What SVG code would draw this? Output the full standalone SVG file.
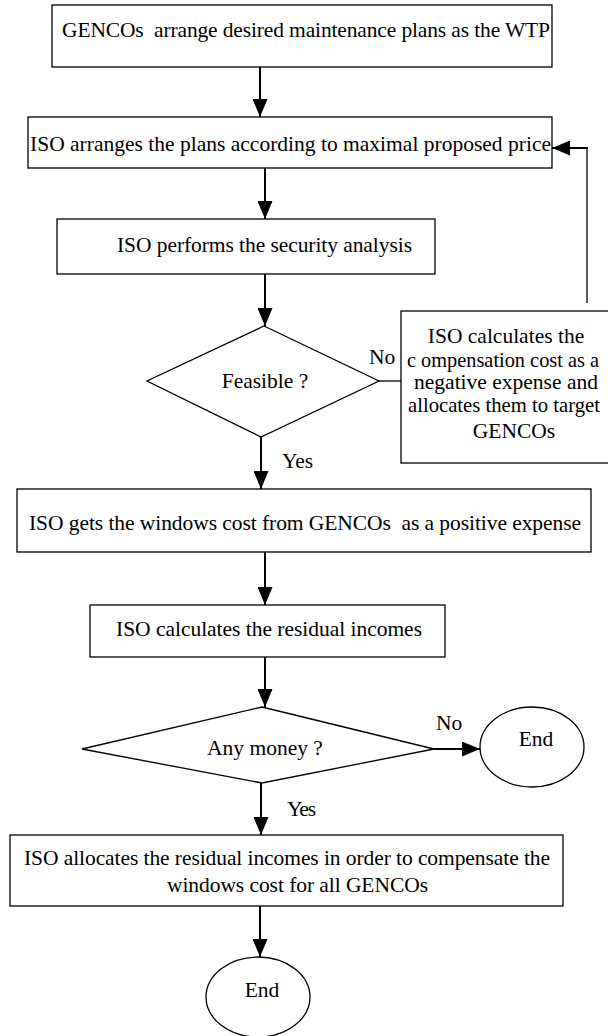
<svg xmlns="http://www.w3.org/2000/svg" width="608" height="1036" viewBox="0 0 608 1036">
<style>
.b{fill:#fff;stroke:#000;stroke-width:1.3}
.t{font-family:"Liberation Serif","Times New Roman",serif;font-size:21.5px;fill:#000;white-space:pre}
.m{text-anchor:middle}
.c{stroke:#000;stroke-width:2;fill:none}
.thin{stroke:#000;stroke-width:1.3;fill:none}
</style>
<defs>
<marker id="ah" markerUnits="userSpaceOnUse" markerWidth="18" markerHeight="15" refX="18" refY="7.5" orient="auto">
<path d="M0,0 L18,7.5 L0,15 Z" fill="#000"/>
</marker>
</defs>
<rect width="608" height="1036" fill="#fff"/>
<g id="n1">
<rect class="b" x="52" y="5" width="500" height="62"/>
<text class="t" x="62" y="37" textLength="488" lengthAdjust="spacing" xml:space="preserve">GENCOs  arrange desired maintenance plans as the WTP</text>
</g>
<g id="n2">
<rect class="b" x="28" y="117" width="524" height="51"/>
<text class="t" x="30" y="151" textLength="521" lengthAdjust="spacing">ISO arranges the plans according to maximal proposed price</text>
</g>
<g id="n3">
<rect class="b" x="57" y="219" width="378" height="55"/>
<text class="t" x="117" y="252" textLength="295" lengthAdjust="spacing">ISO performs the security analysis</text>
</g>
<g id="n4">
<polygon class="b" points="264,326 379,381 261,437 147,381"/>
<text class="t m" x="265" y="388">Feasible ?</text>
</g>
<g id="n5">
<rect class="b" x="401" y="311" width="212" height="152"/>
<text class="t m" x="506" y="343">ISO calculates the</text>
<text class="t" x="407" y="367" textLength="192" lengthAdjust="spacingAndGlyphs">c ompensation cost as a</text>
<text class="t m" x="506" y="389">negative expense and</text>
<text class="t" x="408" y="412" textLength="192" lengthAdjust="spacingAndGlyphs">allocates them to target</text>
<text class="t m" x="514" y="438">GENCOs</text>
</g>
<g id="n6">
<rect class="b" x="17" y="489" width="574" height="63"/>
<text class="t" x="29" y="530" textLength="552" lengthAdjust="spacing" xml:space="preserve">ISO gets the windows cost from GENCOs  as a positive expense</text>
</g>
<g id="n7">
<rect class="b" x="90" y="605" width="355" height="52"/>
<text class="t" x="116" y="636" textLength="306" lengthAdjust="spacing">ISO calculates the residual incomes</text>
</g>
<g id="n8">
<polygon class="b" points="262,707 434,749 262,783 82,749"/>
<text class="t m" x="265" y="755">Any money ?</text>
</g>
<g id="n9">
<ellipse class="b" cx="532" cy="747" rx="52" ry="40"/>
<text class="t m" x="536" y="746">End</text>
</g>
<g id="n10">
<rect class="b" x="10" y="835" width="553" height="71"/>
<text class="t" x="24" y="865" textLength="526" lengthAdjust="spacing">ISO allocates the residual incomes in order to compensate the</text>
<text class="t" x="167" y="892" textLength="261" lengthAdjust="spacing">windows cost for all GENCOs</text>
</g>
<g id="n11">
<ellipse class="b" cx="258" cy="997" rx="52" ry="40"/>
<text class="t m" x="262" y="997">End</text>
</g>
<g id="connectors">
<line class="c" x1="260" y1="67" x2="260" y2="117" marker-end="url(#ah)"/>
<line class="c" x1="265" y1="168" x2="265" y2="219" marker-end="url(#ah)"/>
<line class="c" x1="265" y1="274" x2="265" y2="326" marker-end="url(#ah)"/>
<line class="thin" x1="379" y1="381" x2="401" y2="381"/>
<line class="thin" x1="587" y1="303" x2="587" y2="148"/>
<line class="c" x1="588" y1="148" x2="552" y2="148" marker-end="url(#ah)"/>
<line class="c" x1="261" y1="437" x2="261" y2="489" marker-end="url(#ah)"/>
<line class="c" x1="265" y1="552" x2="265" y2="605" marker-end="url(#ah)"/>
<line class="c" x1="265" y1="657" x2="265" y2="707" marker-end="url(#ah)"/>
<line class="c" x1="434" y1="749" x2="480" y2="749" marker-end="url(#ah)"/>
<line class="c" x1="261" y1="783" x2="261" y2="835" marker-end="url(#ah)"/>
<line class="c" x1="260" y1="906" x2="260" y2="957" marker-end="url(#ah)"/>
<text class="t" x="369" y="364">No</text>
<text class="t" x="282" y="468" textLength="31" lengthAdjust="spacing">Yes</text>
<text class="t" x="436" y="730">No</text>
<text class="t" x="287" y="816" textLength="29" lengthAdjust="spacing">Yes</text>
</g>
</svg>
